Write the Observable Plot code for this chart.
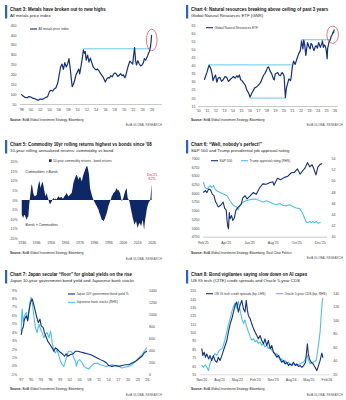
<!DOCTYPE html>
<html><head><meta charset="utf-8">
<script src="https://cdn.jsdelivr.net/npm/d3@7"></script>
<script src="https://cdn.jsdelivr.net/npm/@observablehq/plot@0.6"></script>
<style>
html,body{margin:0;padding:0;background:#fff;}
#root{position:relative;width:346px;height:400px;overflow:hidden;background:#fff;}
#root svg{position:absolute;overflow:visible;}
</style></head><body><div id="root"></div>
<script>
// ---------------- Chart 3: metals ----------------
const metalsYear = [1998.0,1998.4,1998.8,1999.2,1999.6,2000.0,2000.4,2000.8,2001.2,2001.6,2002.0,2002.4,2002.8,2003.2,2003.6,2004.0,2004.3,2004.7,2005.0,2005.4,2005.8,2006.1,2006.4,2006.7,2007.0,2007.3,2007.6,2007.9,2008.2,2008.5,2008.7,2008.9,2009.1,2009.4,2009.7,2010.0,2010.3,2010.5,2010.8,2011.1,2011.3,2011.5,2011.7,2011.9,2012.2,2012.5,2012.8,2013.1,2013.4,2013.7,2014.0,2014.3,2014.6,2014.9,2015.2,2015.5,2015.8,2016.0,2016.3,2016.6,2016.9,2017.2,2017.5,2017.8,2018.1,2018.4,2018.7,2019.0,2019.3,2019.6,2019.9,2020.2,2020.4,2020.7,2021.0,2021.3,2021.6,2021.9,2022.1,2022.3,2022.5,2022.7,2023.0,2023.3,2023.6,2023.9,2024.2,2024.4,2024.7,2025.0,2025.3,2025.5,2025.7,2025.85,2025.95];
const metalsIndex = [100,92,86,84,90,88,82,80,75,72,78,76,80,85,90,115,122,118,128,135,160,200,240,255,228,262,240,255,282,225,180,140,150,170,200,215,230,205,245,290,327,310,318,275,300,265,285,262,240,232,225,230,222,210,200,190,175,164,178,186,184,196,190,205,210,204,192,198,206,196,200,186,195,225,250,270,262,255,300,338,275,250,272,255,245,250,262,282,275,290,310,320,340,370,400];
const metalsYTicks = [50,100,150,200,250,300,350,400,450];
const metalsXTicks = [1998,2000,2002,2004,2006,2008,2010,2012,2014,2016,2018,2020,2022,2024,2026];
const metalsXLabels = ["'98","'00","'02","'04","'06","'08","'10","'12","'14","'16","'18","'20","'22","'24","'26"];
const metalsCeiling = [{y: 332, from: 2011.3, to: 2025.6}];

// ---------------- Chart 4: GNR ----------------
const gnrYear = [2010.7,2010.85,2011.0,2011.15,2011.25,2011.45,2011.6,2011.7,2011.85,2012.0,2012.15,2012.3,2012.5,2012.7,2012.9,2013.1,2013.3,2013.5,2013.7,2013.9,2014.1,2014.3,2014.5,2014.65,2014.8,2014.95,2015.1,2015.3,2015.5,2015.65,2015.75,2015.9,2016.05,2016.2,2016.3,2016.45,2016.6,2016.8,2017.0,2017.15,2017.3,2017.45,2017.6,2017.8,2017.95,2018.1,2018.2,2018.4,2018.6,2018.8,2018.9,2019.0,2019.15,2019.3,2019.45,2019.6,2019.8,2019.95,2020.05,2020.12,2020.2,2020.3,2020.45,2020.6,2020.8,2020.9,2021.0,2021.15,2021.35,2021.55,2021.75,2021.95,2022.1,2022.25,2022.35,2022.45,2022.6,2022.7,2022.8,2022.95,2023.1,2023.2,2023.3,2023.45,2023.55,2023.7,2023.8,2023.95,2024.1,2024.2,2024.3,2024.45,2024.55,2024.65,2024.75,2024.85,2024.95,2025.05,2025.1,2025.15,2025.3,2025.45,2025.55,2025.7,2025.8,2025.85,2025.92];
const gnrPrice = [31.7,34,36.2,39,40.5,38.3,35,31,33,34.5,30,32.5,33,30.5,31.5,33.5,33,30.5,31.5,32.5,33.5,32.5,34,33,34.5,31.5,31,29.5,28,25.5,24.5,23,20.8,22.5,23.8,25,26.5,27,28,29,30,32,34,35.5,37,39,39.5,37,35,32,31.5,35,35.5,36,34.5,34,36,35,33.5,27,20.5,26,29,32,31,34,39,43,41,44.5,47.5,49.5,55.5,50.5,56,53.5,46.5,51,54.5,52,50.5,54,53.5,51,49.5,52,52.5,51,54.5,53,51.5,53.5,55.5,51.5,53,52.5,51,47,44.5,50.5,54.5,56,58,59.5,61,60.5,62.3];
const gnrYTicks = [15,20,25,30,35,40,45,50,55,60,65];
const gnrXTicks = [2010,2011,2012,2013,2014,2015,2016,2017,2018,2019,2020,2021,2022,2023,2024,2025,2026];
const gnrXLabels = ["'10","'11","'12","'13","'14","'15","'16","'17","'18","'19","'20","'21","'22","'23","'24","'25","'26"];
const gnrLevels = [{y: 40.7, from: 2011.25, to: 2021.0}, {y: 20.2, from: 2016.05, to: 2020.2}, {y: 56.2, from: 2022.1, to: 2025.45}];

// ---------------- Chart 5: commodity vs bonds ----------------
const commYear = [1936.0,1936.5,1937.0,1937.6,1938.0,1938.7,1939.5,1940.0,1940.6,1941.0,1941.3,1941.8,1942.2,1942.6,1943.0,1943.5,1944.0,1944.5,1945.0,1945.7,1946.4,1947.0,1947.5,1948.2,1948.6,1949.0,1949.6,1950.3,1950.9,1951.5,1952.0,1952.4,1953.0,1953.3,1954.0,1954.5,1955.0,1955.6,1956.2,1956.8,1957.3,1957.9,1958.5,1959.0,1959.6,1960.2,1960.8,1961.4,1962.0,1962.5,1963.1,1963.7,1964.3,1964.9,1965.5,1966.0,1966.6,1967.2,1967.8,1968.3,1969.0,1969.5,1970.0,1970.6,1971.2,1971.8,1972.4,1973.0,1973.5,1974.1,1974.7,1975.3,1975.8,1976.4,1977.0,1977.6,1978.1,1978.7,1979.3,1979.9,1980.5,1981.0,1981.4,1981.7,1982.2,1982.6,1983.0,1983.3,1983.9,1984.5,1985.0,1985.6,1986.2,1986.8,1987.4,1988.0,1988.5,1989.1,1989.7,1990.3,1990.9,1991.4,1992.0,1992.6,1993.1,1993.7,1994.3,1994.9,1995.5,1996.0,1996.6,1997.2,1997.8,1998.4,1999.0,1999.5,2000.1,2000.7,2001.2,2001.8,2002.4,2003.0,2003.5,2004.1,2004.7,2005.3,2005.9,2006.4,2007.0,2007.6,2008.2,2008.7,2009.0,2009.4,2010.0,2010.6,2011.1,2011.7,2012.3,2012.9,2013.5,2014.0,2014.6,2015.2,2015.8,2016.4,2016.9,2017.5,2018.1,2018.7,2019.2,2019.8,2020.3,2020.8,2021.2,2021.7,2022.2,2022.6,2023.2,2023.8,2024.4,2024.9,2025.2,2025.5,2025.75,2025.95];
const commMinusBond = [-7.7,-8.5,-9.4,-8.0,-7.7,-9.0,-10.3,-9.0,-8.5,-4.0,-1.6,2.0,4.5,7.0,8.3,6.0,3.6,2.5,1.9,2.2,2.8,6.0,8.0,10.0,8.5,6.3,8.0,9.7,8.0,5.4,3.5,1.9,3.0,3.6,1.5,0.2,-1.2,-2.4,-1.5,-0.7,0.3,1.0,0.5,0.2,0.8,0.2,1.2,1.9,1.4,1.0,1.6,1.4,0.8,1.0,1.8,2.4,3.0,3.6,2.6,1.9,2.3,2.8,3.2,3.6,6.0,8.9,10.5,11.5,12.5,13.2,12.0,10.6,11.5,12.3,11.0,9.7,11.5,13.2,14.5,15.8,16.8,17.6,17.8,16.7,15.0,13.2,9.5,6.3,4.5,2.8,1.5,0.2,-0.8,-1.6,-2.5,-3.3,-4.0,-5.0,-6.5,-7.7,-9.0,-10.3,-10.5,-11.1,-10.5,-9.4,-8.0,-6.8,-5.0,-3.3,-2.0,-0.7,0.5,1.9,2.8,3.6,4.0,4.5,5.5,6.3,5.0,5.4,4.5,3.6,1.5,-0.7,0.2,1.0,2.8,4.5,5.5,6.3,3.5,1.0,0.2,-0.7,-2.5,-5.0,-7.0,-9.4,-11.0,-12.9,-12.0,-11.1,-13.0,-14.6,-13.0,-12.0,-12.5,-13.7,-12.0,-10.3,-13.0,-15.5,-12.0,-9.4,-7.0,-5.0,-3.0,-1.6,-0.8,-0.3,1.0,4.0,6.5,8.2];
const commYTicks = [-20,-15,-10,-5,0,5,10,15,20];
const commXTicks = [1936,1946,1956,1966,1976,1986,1996,2006,2016,2026];
const commNotes = [
  {x: 1938.3, y: 14.8, text: "Commodities > Bonds", italic: true},
  {x: 1938.3, y: -12.6, text: "Bonds > Commodities", italic: true},
  {x: 2025.9, y: 13.3, text: "Dec'25", italic: false},
  {x: 2025.9, y: 11.0, text: "8.2%", italic: false}
];

// ---------------- Chart 6: S&P 500 vs approval ----------------
const spxDate = ["2025-02-01","2025-02-06","2025-02-10","2025-02-14","2025-02-19","2025-02-24","2025-02-28","2025-03-04","2025-03-07","2025-03-11","2025-03-14","2025-03-19","2025-03-24","2025-03-28","2025-04-01","2025-04-03","2025-04-05","2025-04-07","2025-04-09","2025-04-11","2025-04-15","2025-04-18","2025-04-22","2025-04-26","2025-05-01","2025-05-06","2025-05-10","2025-05-14","2025-05-20","2025-05-25","2025-06-01","2025-06-10","2025-06-18","2025-06-27","2025-07-05","2025-07-14","2025-07-22","2025-07-31","2025-08-03","2025-08-12","2025-08-20","2025-08-29","2025-09-08","2025-09-17","2025-09-25","2025-10-03","2025-10-10","2025-10-16","2025-10-23","2025-10-29","2025-11-04","2025-11-10","2025-11-14","2025-11-20","2025-11-25","2025-12-01","2025-12-05"];
const spxLevel = [6040,6085,6030,6130,6110,5980,5950,5780,5720,5620,5640,5680,5760,5580,5530,5250,5060,4990,5460,5280,5370,5230,5300,5520,5600,5650,5700,5880,5940,5850,5920,6030,5980,6170,6280,6270,6310,6340,6240,6440,6400,6460,6500,6600,6610,6710,6560,6650,6740,6890,6770,6830,6730,6540,6760,6840,6860];
const approvalDate = ["2025-02-01","2025-02-05","2025-02-10","2025-02-14","2025-02-18","2025-02-22","2025-02-27","2025-03-03","2025-03-07","2025-03-16","2025-03-25","2025-04-03","2025-04-11","2025-04-19","2025-04-28","2025-05-02","2025-05-06","2025-05-15","2025-05-23","2025-06-01","2025-06-09","2025-06-18","2025-06-27","2025-07-05","2025-07-14","2025-07-23","2025-07-31","2025-08-09","2025-08-18","2025-08-26","2025-09-04","2025-09-13","2025-09-21","2025-09-30","2025-10-09","2025-10-17","2025-10-22","2025-10-26","2025-10-30","2025-11-04","2025-11-08","2025-11-12","2025-11-16","2025-11-21","2025-11-25","2025-12-01"];
const approvalRating = [49.8,48.9,48.6,48.9,49.2,48.9,49.2,48.6,48.3,48.0,47.7,47.4,46.5,45.7,45.4,44.9,45.6,46.3,46.5,46.7,46.8,46.8,46.5,46.3,46.5,46.3,46.0,45.8,46.0,45.7,45.6,45.8,45.5,45.2,45.1,44.2,43.3,42.7,42.6,42.8,42.6,42.8,42.6,42.8,42.5,42.6];
const spxYTicks = [4750,5000,5250,5500,5750,6000,6250,6500,6750,7000];
const approvalYTicks = [40,42,44,46,48,50,52,54];
const spxXTicks = ["2025-02-01","2025-04-01","2025-06-01","2025-08-01","2025-10-01","2025-12-01"];
const spxXLabels = ["Feb'25","Apr'25","Jun'25","Aug'25","Oct'25","Dec'25"];

// ---------------- Chart 7: Japan ----------------
const jgbYear = [1987.0,1987.3,1987.6,1988.0,1988.6,1989.0,1989.4,1989.9,1990.4,1990.7,1991.1,1991.7,1992.3,1992.8,1993.2,1993.8,1994.2,1994.8,1995.2,1995.9,1996.6,1997.1,1997.6,1998.3,1999.0,1999.7,2000.4,2000.9,2001.4,2002.3,2003.1,2003.8,2004.5,2005.4,2006.4,2007.4,2008.4,2009.5,2010.5,2011.5,2012.6,2013.4,2014.1,2015.1,2016.2,2017.2,2018.2,2019.3,2020.3,2021.3,2022.4,2023.4,2024.4,2025.1,2025.8];
const jgbYield = [3.8,4.4,4.6,5.6,6.0,5.4,6.6,7.6,8.0,7.6,7.0,6.0,5.2,5.6,4.8,4.6,4.0,3.4,3.0,2.6,2.2,1.8,2.2,2.0,1.7,1.5,1.2,1.5,1.2,1.4,1.5,1.8,1.8,1.7,1.6,1.5,1.4,1.2,1.0,0.8,0.6,0.4,0.1,0.0,0.1,0.0,0.1,0.2,0.2,0.4,0.6,0.9,1.2,1.6,1.8];
const bankYear = [1987.0,1987.2,1987.3,1987.6,1988.0,1988.6,1989.1,1989.7,1990.1,1990.5,1990.9,1991.4,1991.9,1992.5,1993.0,1993.5,1994.0,1994.5,1995.0,1995.6,1996.1,1996.6,1997.1,1997.6,1998.1,1998.7,1999.2,1999.7,2000.2,2000.7,2001.2,2001.7,2002.3,2002.8,2003.3,2003.8,2004.1,2004.5,2005.1,2005.9,2006.4,2007.2,2007.9,2008.6,2009.5,2010.5,2011.5,2012.6,2013.4,2014.1,2015.1,2016.2,2017.2,2018.2,2019.3,2020.3,2021.3,2022.4,2023.4,2024.4,2025.1,2025.8];
const bankIndex = [728,1050,1092,868,980,1036,924,1204,1288,1176,980,784,700,840,756,700,616,672,700,616,728,532,392,364,420,308,224,168,140,224,336,392,392,364,280,224,140,224,252,196,140,112,95,140,185,196,168,151,140,151,168,151,140,112,129,140,168,224,280,336,392,448];
const jgbYTicks = [-1,0,1,2,3,4,5,6,7,8,9];
const bankYTicks = [0,200,400,600,800,1000,1200,1400];
const japanXTicks = [1987,1990,1993,1996,1999,2002,2005,2008,2011,2014,2017,2020,2023,2026];
const japanXLabels = ["'87","'90","'93","'96","'99","'02","'05","'08","'11","'14","'17","'20","'23","'26"];

// ---------------- Chart 8: credit ----------------
const citeDate = ["2020-11-01","2020-11-16","2020-12-07","2020-12-27","2021-01-16","2021-02-12","2021-03-07","2021-04-01","2021-04-28","2021-05-22","2021-06-19","2021-07-13","2021-08-07","2021-09-04","2021-09-28","2021-10-25","2021-11-19","2021-12-13","2022-01-10","2022-02-04","2022-03-01","2022-03-25","2022-04-19","2022-05-16","2022-06-10","2022-07-07","2022-08-01","2022-08-25","2022-09-13","2022-10-01","2022-10-16","2022-11-13","2022-12-07","2023-01-04","2023-01-28","2023-02-22","2023-03-19","2023-04-13","2023-05-10","2023-06-04","2023-06-28","2023-07-25","2023-08-19","2023-09-16","2023-10-10","2023-11-04","2023-12-01","2023-12-25","2024-01-22","2024-02-16","2024-03-10","2024-04-07","2024-05-01","2024-05-28","2024-06-22","2024-07-16","2024-08-13","2024-09-07","2024-10-04","2024-10-28","2024-11-22","2024-12-19","2025-01-13","2025-02-10","2025-03-10","2025-04-08","2025-04-22","2025-05-10","2025-06-05","2025-07-05","2025-08-04","2025-09-01","2025-09-25","2025-10-20","2025-11-15","2025-12-01"];
const citeSpread = [86,78,82,76,80,74,78,72,78,72,70,76,72,78,84,90,96,106,116,122,130,138,142,130,138,144,134,130,144,132,126,122,116,110,106,102,98,102,96,92,98,90,96,86,90,82,80,76,78,74,70,72,68,70,66,68,66,70,66,68,65,66,64,66,70,92,80,74,70,68,64,60,66,72,81,76];
const orclDate = ["2020-11-01","2020-11-25","2020-12-22","2021-01-16","2021-02-12","2021-02-27","2021-03-16","2021-04-16","2021-05-22","2021-06-19","2021-07-28","2021-09-04","2021-09-28","2021-10-25","2021-11-19","2021-12-13","2022-01-10","2022-02-04","2022-03-01","2022-03-25","2022-04-19","2022-05-16","2022-06-10","2022-07-07","2022-08-01","2022-08-25","2022-09-22","2022-10-16","2022-11-13","2022-12-07","2023-01-04","2023-01-28","2023-02-22","2023-03-19","2023-04-13","2023-05-10","2023-06-04","2023-06-28","2023-07-25","2023-08-19","2023-09-16","2023-10-10","2023-11-04","2023-12-01","2023-12-25","2024-01-22","2024-02-16","2024-03-10","2024-04-07","2024-05-01","2024-05-28","2024-06-22","2024-07-16","2024-09-07","2024-10-28","2024-12-19","2025-02-10","2025-04-08","2025-04-25","2025-05-20","2025-07-10","2025-08-20","2025-09-10","2025-10-01","2025-10-20","2025-11-06","2025-11-22","2025-12-01"];
const orclCds = [33.5,31,34.5,31,26,33.5,38.5,46,51,48.5,56,58.5,63.5,73.5,83.5,93.5,103.5,113.5,121,126,118.5,128.5,116,103.5,96,101,91,83.5,76,71,73.5,68.5,71,66,68.5,63.5,66,61,63.5,58.5,61,56,53.5,48.5,51,46,41,43.5,38.5,41,36,38.5,34.5,36,33.5,36,38.5,48.5,41,36,38.5,41,53.5,68.5,83.5,108.5,128.5,133.5];
const citeYTicks = [55,65,75,85,95,105,115,125,135,145,155];
const orclYTicks = [20,40,60,80,100,120,140];
const creditXTicks = ["2020-11-01","2021-08-01","2022-05-01","2023-02-01","2023-11-01","2024-08-01","2025-05-01","2026-02-01"];
const creditXLabels = ["Nov'20","Aug'21","May'22","Feb'23","Nov'23","Aug'24","May'25","Feb'26"];

// ---------------- styling ----------------
const NAVY = "#15307c", AREA = "#0e2766", CYAN = "#4cbfee", CEIL = "#67c8f0", RED = "#d0202e";
const FONT = "'Liberation Sans', Arial, Helvetica, sans-serif";
const TICK = 3.5, TICKCOL = "#444";
const root = document.getElementById("root");
const style = {background: "transparent", overflow: "visible", fontFamily: FONT, fontSize: TICK + "px"};
const zip = (xs, ys, f) => xs.map((x, i) => ({x: f ? f(x) : x, y: ys[i]}));
const dt = s => new Date(s + "T00:00:00Z");
const labelOf = (ticks, labels) => d => { const k = ticks.findIndex(t => +t === +d); return k < 0 ? "" : labels[k]; };
const num = d => String(d).replace("\u2212", "-");

function place(svg, left, top) {
  svg.style.left = left + "px"; svg.style.top = top + "px";
  root.appendChild(svg); return svg;
}
function yAxis(ticks, opts) {
  return Plot.axisY(ticks, Object.assign({tickSize: 0, label: null, color: TICKCOL, fontSize: TICK}, opts));
}
function xAxis(ticks, fmt, pad) {
  return Plot.axisX(ticks, {tickSize: 0, tickPadding: pad, label: null, color: TICKCOL, fontSize: TICK, tickFormat: fmt});
}
function legendText(sel, x, y, label) {
  sel.append("text").attr("x", x).attr("y", y).attr("dy", "0.35em").attr("text-anchor", "start")
    .attr("font-size", 3.2).attr("fill", "#333").attr("font-family", FONT).text(label);
}
function legendLine(svg, x, y, color, label) {
  const s = d3.select(svg);
  s.append("line").attr("x1", x).attr("x2", x + 7).attr("y1", y).attr("y2", y).attr("stroke", color).attr("stroke-width", 1.1);
  legendText(s, x + 8.5, y, label);
}
function ring(svg, cx, cy, rx, ry) {
  d3.select(svg).append("ellipse").attr("cx", svg.scale("x").apply(cx)).attr("cy", svg.scale("y").apply(cy))
    .attr("rx", rx).attr("ry", ry).attr("fill", "none").attr("stroke", RED).attr("stroke-width", 0.6);
}

// ---------- headers / footers ----------
const panels = [
  {x: 5, y: 0, title: "Chart 3: Metals have broken out to new highs", sub: "All metals price index", src: "BofA Global Investment Strategy, Bloomberg", srcY: 120.5, brandY: 125.5, brandX: 162},
  {x: 186, y: 0, title: "Chart 4: Natural resources breaking above ceiling of past 3 years", sub: "Global Natural Resources ETF (GNR)", src: "BofA Global Investment Strategy, Bloomberg", srcY: 120.5, brandY: 125.5, brandX: 343},
  {x: 5, y: 135, title: "Chart 5: Commodity 10yr rolling returns highest vs bonds since '08", sub: "10-year rolling annualized returns: commodity vs bond", src: "BofA Global Investment Strategy, Bloomberg", srcY: 253.5, brandY: 259.5, brandX: 162},
  {x: 186, y: 135, title: "Chart 6: \u201cWell, nobody\u2019s perfect!\u201d", sub: "S&P 500 and Trump presidential job approval rating", src: "BofA Global Investment Strategy, Bloomberg, Real Clear Politics", srcY: 253.5, brandY: 258.5, brandX: 343},
  {x: 5, y: 265, title: "Chart 7: Japan secular \u201cfloor\u201d for global yields on the rise", sub: "Japan 10-year government bond yield and Japanese bank stocks", src: "BofA Global Investment Strategy, Bloomberg", srcY: 390, brandY: 396, brandX: 162},
  {x: 186, y: 265, title: "Chart 8: Bond vigilantes saying slow down on AI capex", sub: "US IG tech (CITE) credit spreads and Oracle 5-year CDS", src: "BofA Global Investment Strategy, Bloomberg", srcY: 389.5, brandY: 396, brandX: 343}
];
const bg = d3.create("svg").attr("width", 346).attr("height", 400).attr("font-family", FONT);
for (const p of panels) {
  bg.append("rect").attr("x", p.x).attr("y", p.y + 5).attr("width", 2.2).attr("height", 13.5).attr("fill", "#2563d4");
  bg.append("text").attr("x", p.x + 5).attr("y", p.y + 10.7).attr("font-size", 4.45).attr("font-weight", "bold").attr("fill", "#111").text(p.title);
  bg.append("text").attr("x", p.x + 5).attr("y", p.y + 16.7).attr("font-size", 4.3).attr("fill", "#222").text(p.sub);
  const s = bg.append("text").attr("x", p.x + 5).attr("y", p.srcY).attr("font-size", 3.1).attr("fill", "#222");
  s.append("tspan").attr("font-weight", "bold").text("Source: ");
  s.append("tspan").text(p.src);
  bg.append("text").attr("x", p.brandX).attr("y", p.brandY).attr("text-anchor", "end").attr("font-size", 2.9).attr("fill", "#555").attr("letter-spacing", 0.05).text("BofA GLOBAL RESEARCH");
}
place(bg.node(), 0, 0);

// ---------- Chart 3 ----------
const p1 = Plot.plot({
  width: 172, height: 96, marginTop: 7, marginBottom: 10, marginLeft: 20, marginRight: 10, style,
  x: {domain: [1997.78, 2028.3], label: null}, y: {domain: [50, 450], label: null},
  marks: [
    Plot.ruleY([50], {stroke: "#c9c9c9", strokeWidth: 1}),
    yAxis(metalsYTicks, {tickPadding: 4, tickFormat: num}),
    xAxis(metalsXTicks, labelOf(metalsXTicks, metalsXLabels), 4),
    Plot.ruleY(metalsCeiling, {y: "y", x1: "from", x2: "to", stroke: CEIL, strokeWidth: 1}),
    Plot.line(zip(metalsYear, metalsIndex), {x: "x", y: "y", stroke: NAVY, strokeWidth: 1.2})
  ]
});
place(p1, 0, 18);
legendLine(p1, 30, 11, NAVY, "All metals price index");
ring(p1, 2026.1, 374, 5.3, 10.8);

// ---------- Chart 4 ----------
const p2 = Plot.plot({
  width: 173, height: 96, marginTop: 7, marginBottom: 8, marginLeft: 25, marginRight: 8, style,
  x: {domain: [2010, 2026.43], label: null}, y: {domain: [15, 65], label: null},
  marks: [
    Plot.ruleY([15], {stroke: "#c9c9c9", strokeWidth: 1}),
    yAxis(gnrYTicks, {tickPadding: 3, tickFormat: num}),
    xAxis(gnrXTicks, labelOf(gnrXTicks, gnrXLabels), 3),
    Plot.ruleY(gnrLevels, {y: "y", x1: "from", x2: "to", stroke: CEIL, strokeWidth: 1}),
    Plot.line(zip(gnrYear, gnrPrice), {x: "x", y: "y", stroke: NAVY, strokeWidth: 1.2})
  ]
});
place(p2, 173, 18);
legendLine(p2, 33, 9.7, NAVY, "Global Natural Resources ETF");
ring(p2, 2025.8, 59, 5.8, 8.7);

// ---------- Chart 5 ----------
const p3 = Plot.plot({
  width: 172, height: 96, marginTop: 8.7, marginBottom: 10.7, marginLeft: 20, marginRight: 14, style,
  x: {domain: [1934.8, 2030.4], label: null}, y: {domain: [-20, 20], label: null},
  marks: [
    yAxis(commYTicks, {tickPadding: 3, tickFormat: d => num(d) + "%"}),
    xAxis(commXTicks, d => String(d), 3),
    Plot.areaY(zip(commYear, commMinusBond), {x: "x", y: "y", fill: AREA}),
    Plot.text(commNotes.filter(d => d.italic), {x: "x", y: "y", text: "text", fill: "#222", fontStyle: "italic", fontSize: 3.3, textAnchor: "start"}),
    Plot.text(commNotes.filter(d => !d.italic), {x: "x", y: "y", text: "text", fill: RED, fontSize: 3.2, textAnchor: "middle"})
  ]
});
place(p3, 0, 153);
{
  const s = d3.select(p3);
  s.append("rect").attr("x", 49).attr("y", 6.3).attr("width", 2.6).attr("height", 2.6).attr("fill", AREA);
  legendText(s, 53, 7.6, "10-year commodity returns - bond returns");
}

// ---------- Chart 6 ----------
const spMin = 4750, spMax = 7000, apMin = 40, apMax = 54;
const apToSp = v => spMin + (v - apMin) / (apMax - apMin) * (spMax - spMin);
const spToAp = v => apMin + (v - spMin) / (spMax - spMin) * (apMax - apMin);
const p4 = Plot.plot({
  width: 173, height: 96, marginTop: 5.3, marginBottom: 12.3, marginLeft: 30, marginRight: 19, style,
  x: {type: "utc", domain: [dt("2025-02-01"), dt("2025-12-20")], label: null}, y: {domain: [spMin, spMax], label: null},
  marks: [
    Plot.ruleY([spMin], {stroke: "#c9c9c9", strokeWidth: 1}),
    yAxis(spxYTicks, {anchor: "left", tickPadding: 4, tickFormat: num}),
    yAxis(approvalYTicks.map(apToSp), {anchor: "right", tickPadding: 4, tickFormat: d => String(Math.round(spToAp(d)))}),
    xAxis(spxXTicks.map(dt), labelOf(spxXTicks.map(dt), spxXLabels), 4.3),
    Plot.line(zip(approvalDate, approvalRating.map(apToSp), dt), {x: "x", y: "y", stroke: CYAN, strokeWidth: 1.1}),
    Plot.line(zip(spxDate, spxLevel, dt), {x: "x", y: "y", stroke: NAVY, strokeWidth: 1.1})
  ]
});
place(p4, 173, 153);
legendLine(p4, 38, 7.7, NAVY, "S&P 500");
legendLine(p4, 68, 7.7, CYAN, "Trump approval rating (RHS)");

// ---------- Chart 7 ----------
const jMin = -1, jMax = 9, bMin = 0, bMax = 1400;
const bToJ = v => jMin + (v - bMin) / (bMax - bMin) * (jMax - jMin);
const jToB = v => bMin + (v - jMin) / (jMax - jMin) * (bMax - bMin);
const p5 = Plot.plot({
  width: 172, height: 100, marginTop: 7, marginBottom: 8.7, marginLeft: 20, marginRight: 25, style,
  x: {domain: [1986.78, 2026.09], label: null}, y: {domain: [jMin, jMax], label: null},
  marks: [
    yAxis(jgbYTicks, {anchor: "left", tickPadding: 3.5, tickFormat: d => num(d) + "%"}),
    yAxis(bankYTicks.map(bToJ), {anchor: "right", tickPadding: 1.5, tickFormat: d => String(Math.round(jToB(d)))}),
    xAxis(japanXTicks, labelOf(japanXTicks, japanXLabels), 3.3),
    Plot.line(zip(bankYear, bankIndex.map(bToJ)), {x: "x", y: "y", stroke: CYAN, strokeWidth: 1.1}),
    Plot.line(zip(jgbYear, jgbYield), {x: "x", y: "y", stroke: NAVY, strokeWidth: 1.1})
  ]
});
place(p5, 0, 283);
legendLine(p5, 68, 11, NAVY, "Japan 10Y government bond yield %");
legendLine(p5, 68, 19.3, CYAN, "Japanese bank stocks (RHS)");

// ---------- Chart 8 ----------
const cMin = 55, cMax = 155, oMin = 19.5, oMax = 144;
const oToC = v => cMin + (v - oMin) / (oMax - oMin) * (cMax - cMin);
const cToO = v => oMin + (v - cMin) / (cMax - cMin) * (oMax - oMin);
const p6 = Plot.plot({
  width: 173, height: 100, marginTop: 7.7, marginBottom: 8.7, marginLeft: 26.7, marginRight: 16.3, style,
  x: {type: "utc", domain: [dt("2020-10-07"), dt("2026-03-24")], label: null}, y: {domain: [cMin, cMax], label: null},
  marks: [
    Plot.ruleY([cMin], {stroke: "#d4d4d4", strokeWidth: 0.8}),
    yAxis(citeYTicks, {anchor: "left", tickPadding: 4, tickFormat: num}),
    yAxis(orclYTicks.map(oToC), {anchor: "right", tickPadding: 3, tickFormat: d => String(Math.round(cToO(d)))}),
    xAxis(creditXTicks.map(dt), labelOf(creditXTicks.map(dt), creditXLabels), 3.3),
    Plot.line(zip(orclDate, orclCds.map(oToC), dt), {x: "x", y: "y", stroke: CYAN, strokeWidth: 1.1}),
    Plot.line(zip(citeDate, citeSpread, dt), {x: "x", y: "y", stroke: NAVY, strokeWidth: 1.1})
  ]
});
place(p6, 173, 283);
legendLine(p6, 33, 10.7, NAVY, "US IG tech credit spreads (bp, LHS)");
legendLine(p6, 103, 10.7, CYAN, "Oracle 5-year CDS (bp, RHS)");
</script></body></html>
